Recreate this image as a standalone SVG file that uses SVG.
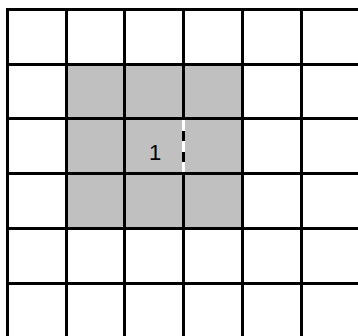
<svg xmlns="http://www.w3.org/2000/svg" width="358" height="336" viewBox="0 0 358 336">
<style>
.g{stroke:#000;stroke-width:3;fill:none}
</style>
<rect width="358" height="336" fill="#fff"/>
<g id="shaded">
<rect x="66.5" y="64.5" width="176" height="164" fill="#c0c0c0"/>
</g>
<g id="grid" class="g">
<line x1="6" y1="9.5" x2="358" y2="9.5"/>
<line x1="6" y1="64.5" x2="358" y2="64.5"/>
<line x1="6" y1="118.5" x2="358" y2="118.5"/>
<line x1="6" y1="173.5" x2="358" y2="173.5"/>
<line x1="6" y1="228.5" x2="358" y2="228.5"/>
<line x1="6" y1="283.5" x2="358" y2="283.5"/>
<line x1="7.5" y1="8" x2="7.5" y2="336"/>
<line x1="66.5" y1="8" x2="66.5" y2="336"/>
<line x1="124.5" y1="8" x2="124.5" y2="336"/>
<line x1="183.5" y1="8" x2="183.5" y2="120"/>
<line x1="183.5" y1="172" x2="183.5" y2="336"/>
<line x1="242.5" y1="8" x2="242.5" y2="336"/>
<line x1="301.5" y1="8" x2="301.5" y2="336"/>
</g>
<g id="connectors">
<line x1="183.5" y1="120" x2="183.5" y2="172" stroke="#fff" stroke-width="3"/>
<line x1="183.5" y1="120" x2="183.5" y2="172" stroke="#000" stroke-width="3" stroke-dasharray="0,11,10,11,10,10"/>
</g>
<g id="cell-1">
<text x="155" y="160" font-family="Liberation Sans, Arial, sans-serif" font-size="22" text-anchor="middle" fill="#000">1</text>
</g>
</svg>
